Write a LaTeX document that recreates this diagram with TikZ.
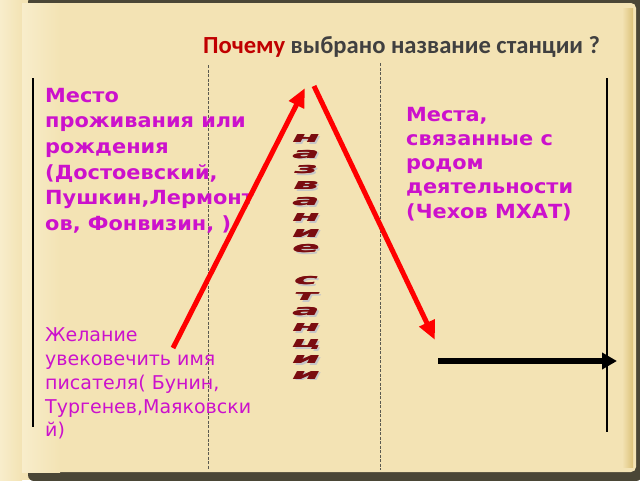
\documentclass[tikz,border=0pt]{standalone}
\usepackage{fontspec}
\setmainfont{DejaVu Sans}
\newfontfamily\titlefont{Carlito}
\usetikzlibrary{arrows.meta}
\definecolor{parch}{HTML}{F3E3B4}
\definecolor{parchlight}{HTML}{F8EDCB}
\definecolor{framedark}{HTML}{4A4636}
\definecolor{golden}{HTML}{DCC27A}
\definecolor{magtxt}{HTML}{CC11CC}
\definecolor{titlered}{HTML}{C00000}
\definecolor{titlegray}{HTML}{404040}
\definecolor{wordred}{HTML}{7A0C10}
\definecolor{dashgray}{HTML}{5A5A50}
\newcommand{\stationcolumn}{н\\а\\з\\в\\а\\н\\и\\е\\\mbox{}\\с\\т\\а\\н\\ц\\и\\и}
\tikzset{
  boldtxt/.style={anchor=base west, inner sep=0pt, align=left, text=magtxt, xscale=1.07,
    font=\bfseries\fontsize{19.5}{25.7}\selectfont},
  regtxt/.style={anchor=base west, inner sep=0pt, align=left, text=magtxt,
    font=\fontsize{19}{23.8}\selectfont},
  redarrow/.style={draw=red, line width=5pt, -{Triangle[length=19pt,width=16pt]}},
  blackarrow/.style={draw=black, line width=5.5pt, -{Triangle[length=15pt,width=16pt]}},
  guide/.style={draw=dashgray, line width=0.9pt, dash pattern=on 3pt off 1.5pt},
  sideline/.style={draw=black, line width=2.2pt},
  wordcol/.style={anchor=base, inner sep=0pt, align=center, xscale=2.75,
    font=\bfseries\itshape\fontsize{14.5}{15.78}\selectfont},
}
\begin{document}
\begin{tikzpicture}[x=1pt,y=-1pt]
\useasboundingbox (0,0) rectangle (640,480);
% page background
\fill[parch] (0,0) rectangle (640,480);
\fill[framedark, rounded corners=6pt] (28,-4) rectangle (642,481);
\fill[parch, rounded corners=5pt] (0,3) rectangle (636,472);
\shade[left color=parchlight, right color=parch] (0,0) rectangle (22,480);
\shade[left color=parchlight, right color=parch] (22,3) rectangle (60,472);
\shade[left color=parch, right color=golden] (622,8) rectangle (633,467);
% vertical guides
\coordinate (g1t) at (208,65); \coordinate (g1b) at (208,470);
\coordinate (g2t) at (380,63); \coordinate (g2b) at (380,470);
\draw[guide] (g1t) -- (g1b);
\draw[guide] (g2t) -- (g2b);
\coordinate (l1t) at (33,78); \coordinate (l1b) at (33,427);
\coordinate (l2t) at (607,78); \coordinate (l2b) at (607,432);
\draw[sideline, line width=2.8pt] (l1t) -- (l1b);
\draw[sideline] (l2t) -- (l2b);
% title
\node[anchor=base west, inner sep=0pt] (title) at (203,53)
  {\titlefont\bfseries\fontsize{24.6}{28}\selectfont\textcolor{titlered}{Почему} \textcolor{titlegray}{выбрано название станции ?}};
% texts (anchored at the baseline of the last line)
\node[boldtxt] (birth) at (45,230.5) {Место\\проживания или\\рождения\\(Достоевский,\\Пушкин,Лермонт\\ов, Фонвизин, )};
\node[boldtxt, font=\bfseries\fontsize{19.5}{24.3}\selectfont] (work) at (406,218.2) {Места,\\связанные с\\родом\\деятельности\\(Чехов МХАТ)};
\node[regtxt] (wish) at (45,436.9) {Желание\\увековечить имя\\писателя( Бунин,\\Тургенев,Маяковски\\й)};
% vertical word (shadow, then letters drawn twice for weight)
\node[wordcol, text=gray!45] (wordshadow) at (308,380.9) {\stationcolumn};
\node[wordcol, text=wordred] (wordA) at (305.6,379.1) {\stationcolumn};
\node[wordcol, text=wordred] (wordB) at (306.4,379.1) {\stationcolumn};
% arrows
\coordinate (a1s) at (173,348); \coordinate (a1e) at (305,88);
\coordinate (a2s) at (314,86); \coordinate (a2e) at (435,340);
\coordinate (a3s) at (438,361); \coordinate (a3e) at (617,361);
\draw[redarrow] (a1s) -- (a1e);
\draw[redarrow] (a2s) -- (a2e);
\draw[blackarrow] (a3s) -- (a3e);
\end{tikzpicture}
\end{document}
